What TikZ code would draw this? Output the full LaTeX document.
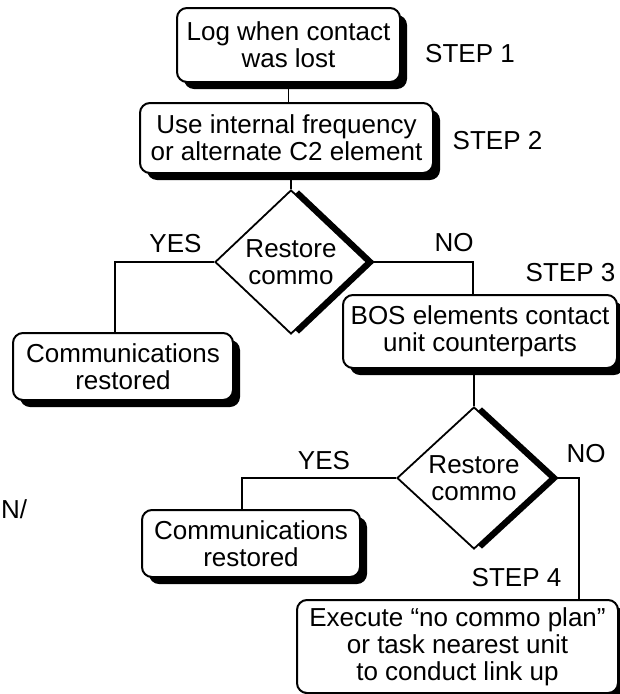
\documentclass[tikz,border=0pt]{standalone}
\usepackage{fontspec}
\setmainfont{Liberation Sans}
\usetikzlibrary{shapes.geometric,shadows}

\tikzset{
  txt/.style={font=\fontsize{26}{27}\selectfont},
  stepbox/.style={txt, draw, line width=2pt, rounded corners=10pt, fill=white,
    align=center, inner sep=2pt,
    drop shadow={shadow xshift=7pt, shadow yshift=-7pt, opacity=1, fill=black}},
  decision/.style={txt, shape=diamond, draw, line width=1.8pt, fill=white,
    align=center, inner sep=0pt, minimum width=152pt, minimum height=144pt,
    drop shadow={shadow xshift=8pt, shadow yshift=0pt, opacity=1, fill=black}},
  lbl/.style={txt, inner sep=0pt},
  link/.style={line width=1.8pt},
}

\begin{document}
\begin{tikzpicture}[x=1pt, y=-1pt]
  \useasboundingbox (0,0) rectangle (620,694);

  % process boxes
  \node[stepbox, minimum width=223pt, minimum height=74pt] (log) at (288.5,45)
    {Log when contact\\was lost};
  \node[stepbox, minimum width=293pt, minimum height=70pt] (use) at (286.5,138)
    {Use internal frequency\\or alternate C2 element};
  \node[stepbox, minimum width=220pt, minimum height=67pt] (rest1) at (123,366.5)
    {Communications\\restored};
  \node[stepbox, minimum width=274pt, minimum height=73pt] (bos) at (480,331.5)
    {BOS elements contact\\unit counterparts};
  \node[stepbox, minimum width=218pt, minimum height=67pt] (rest2) at (251,543.5)
    {Communications\\restored};
  \node[stepbox, minimum width=321pt, minimum height=93pt] (exec) at (457.5,646.5)
    {Execute “no commo plan”\\or task nearest unit\\to conduct link up};

  % decisions
  \node[decision] (d1) at (291,262) {Restore\\commo};
  \node[decision, minimum width=154pt, minimum height=142pt] (d2) at (474,478) {Restore\\commo};

  % step and branch labels
  \node[lbl] (s1) at (470,53.5) {STEP 1};
  \node[lbl] (s2) at (497.5,141) {STEP 2};
  \node[lbl] (s3) at (570.5,272.5) {STEP 3};
  \node[lbl] (s4) at (516.5,577.5) {STEP 4};
  \node[lbl] (yes1) at (175.5,244) {YES};
  \node[lbl] (no1) at (454,242.5) {NO};
  \node[lbl] (yes2) at (324,461) {YES};
  \node[lbl] (no2) at (586,453.5) {NO};
  \node[lbl, anchor=west] (edge) at (1,509) {N/};

  % branch corners
  \coordinate (c1) at (115,262);
  \coordinate (c2) at (473,262);
  \coordinate (c3) at (242,478);
  \coordinate (c4) at (579,478);

  % connectors
  \draw[link] (log.south) -- (log.south |- use.north);
  \draw[link] (d1.north |- use.south) -- (d1.north);
  \draw[link] (d1.west) -- (c1) -- (c1 |- rest1.north);
  \draw[link] (d1.east) -- (c2) -- (c2 |- bos.north);
  \draw[link] (d2.north |- bos.south) -- (d2.north);
  \draw[link] (d2.west) -- (c3) -- (c3 |- rest2.north);
  \draw[link] (d2.east) -- (c4) -- (c4 |- exec.north);
\end{tikzpicture}
\end{document}
